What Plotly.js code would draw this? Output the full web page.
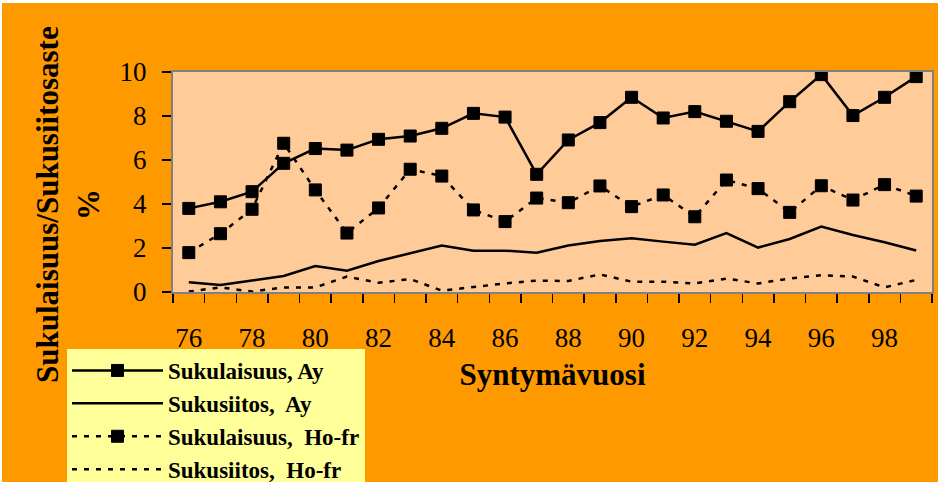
<!DOCTYPE html>
<html><head><meta charset="utf-8">
<script src="https://cdn.plot.ly/plotly-3.0.1.min.js"></script>
<style>
html,body{margin:0;padding:0;background:#ffffff;}
#chart{margin-left:2px;margin-top:3px;width:936px;height:479px;}
svg text{font-family:'Liberation Serif' !important;}
</style>
</head><body><div id="chart"></div>
<script>
var years = [76,77,78,79,80,81,82,83,84,85,86,87,88,89,90,91,92,93,94,95,96,97,98,99];
var tickYears = [76,78,80,82,84,86,88,90,92,94,96,98];
var tickLabels = ["76","78","80","82","84","86","88","90","92","94","96","98"];
var sukulaisuusAy = [3.8,4.1,4.56,5.85,6.52,6.45,6.94,7.09,7.44,8.12,7.95,5.35,6.91,7.70,8.85,7.91,8.20,7.76,7.30,8.65,9.88,8.02,8.85,9.79];
var sukusiitosAy = [0.44,0.32,0.52,0.73,1.18,0.97,1.41,1.76,2.11,1.88,1.88,1.78,2.11,2.32,2.44,2.29,2.15,2.68,2.02,2.41,2.97,2.59,2.26,1.89];
var sukulaisuusHo = [1.79,2.65,3.76,6.76,4.64,2.68,3.82,5.58,5.27,3.73,3.20,4.27,4.06,4.82,3.88,4.41,3.42,5.09,4.70,3.62,4.83,4.18,4.88,4.36];
var sukusiitosHo = [0.02,0.21,0.02,0.21,0.21,0.70,0.42,0.59,0.06,0.24,0.39,0.52,0.50,0.80,0.47,0.47,0.39,0.61,0.39,0.61,0.76,0.70,0.21,0.55];
var names = ["Sukulaisuus, Ay","Sukusiitos,  Ay","Sukulaisuus,  Ho-fr","Sukusiitos,  Ho-fr"];

var mk = {symbol:'square', size:12, color:'#000000', line:{color:'#000000', width:1}};
var traces = [
  {x:years, y:sukulaisuusAy, name:names[0], mode:'lines+markers', line:{color:'#000000', width:2.5}, marker:mk},
  {x:years, y:sukusiitosAy, name:names[1], mode:'lines', line:{color:'#000000', width:2.5}},
  {x:years, y:sukulaisuusHo, name:names[2], mode:'lines+markers', line:{color:'#000000', width:2.5, dash:'5px,7px'}, marker:mk},
  {x:years, y:sukusiitosHo, name:names[3], mode:'lines', line:{color:'#000000', width:2.5, dash:'5px,7px'}}
];
var fam = 'Liberation Serif';
var L = 171, R = 6, T = 69, B = 190;
var PW = 936 - L - R, PH = 479 - T - B;
var layout = {
  width:936, height:479,
  margin:{l:L, r:R, t:T, b:B, pad:0, autoexpand:false},
  paper_bgcolor:'#FF9900', plot_bgcolor:'#FFCC99',
  font:{family:fam, color:'#000000', size:27},
  showlegend:true,
  legend:{x:(65-L)/PW, xanchor:'left', y:(T+PH-346)/PH, yanchor:'top', bgcolor:'#FFFF99', borderwidth:0,
          font:{family:fam, size:23, color:'#000000', weight:'bold'}, tracegroupgap:0, itemwidth:91},
  xaxis:{range:[75.5,99.5], tickmode:'array', tickvals:tickYears, ticktext:tickLabels,
         ticks:'outside', ticklen:9, tickcolor:'rgba(0,0,0,0)', ticklabelstandoff:12,
         showgrid:false, zeroline:false, showline:true, mirror:true, linecolor:'#808080', linewidth:2,
         minor:{tick0:75.5, dtick:1, ticks:'outside', ticklen:9, tickcolor:'#000000', tickwidth:1.5, showgrid:false},
         tickfont:{family:fam, size:27}, title:{text:'Syntymävuosi', font:{family:fam, size:31, weight:'bold'}, standoff:11}},
  yaxis:{range:[0,10], dtick:2, tick0:0, ticks:'outside', ticklen:9, tickcolor:'#000000', tickwidth:1.5, ticklabelstandoff:10,
         showgrid:false, zeroline:false, showline:true, mirror:true, linecolor:'#808080', linewidth:2, tickfont:{family:fam, size:27}},
  annotations:[
    {xref:'paper', yref:'paper', x:(45-L)/PW, y:(T+PH-202)/PH, text:'Sukulaisuus/Sukusiitosaste', textangle:-90, showarrow:false,
     font:{family:fam, size:31, weight:'bold'}, xanchor:'center', yanchor:'middle'},
    {xref:'paper', yref:'paper', x:(86-L)/PW, y:(T+PH-202)/PH, text:'%', textangle:-90, showarrow:false,
     font:{family:fam, size:31, weight:'bold'}, xanchor:'center', yanchor:'middle'}
  ]
};
Plotly.newPlot('chart', traces, layout, {displayModeBar:false, staticPlot:true});
</script></body></html>
